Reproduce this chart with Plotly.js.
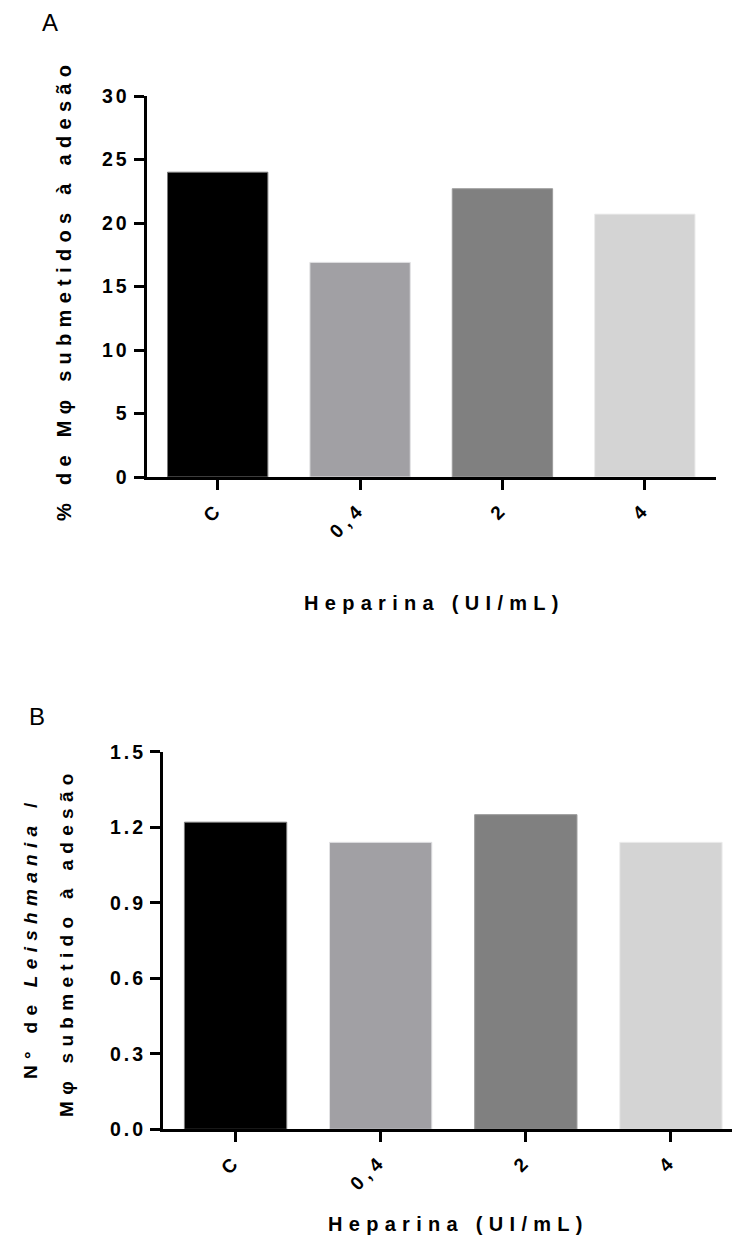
<!DOCTYPE html>
<html>
<head>
<meta charset="utf-8">
<script src="https://cdn.plot.ly/plotly-3.0.1.min.js"></script>
<style>
  html, body { margin: 0; padding: 0; background: #fff; overflow: hidden; }
  #chart { width: 760px; height: 1244px; }
  .ytick text, .y2tick text { letter-spacing: 3px; }
  .xtick text, .x2tick text { letter-spacing: 5px; }
  .annotation-text { letter-spacing: 6.3px; }
</style>
</head>
<body>
<div id="chart"></div>
<script>
// ---- data ----
const categories = ["C", "0,4", "2", "4"];
const valuesA = [24.0, 16.9, 22.7, 20.7];
const valuesB = [1.22, 1.14, 1.25, 1.14];
const barColors = ["#000000", "#a1a0a4", "#808080", "#d4d4d4"];
const barEdges = ["#7a7a7a", "#e2e2e4", "#9c9c9c", "#ececec"];
const yTicksA = [0, 5, 10, 15, 20, 25, 30];
const yTicksB = [0, 0.3, 0.6, 0.9, 1.2, 1.5];
const yTickTextB = ["0.0", "0.3", "0.6", "0.9", "1.2", "1.5"];
const xTitle = "Heparina (UI/mL)";
const yTitleA = "% de Mφ submetidos à adesão";
const yTitleB1 = "N° de <i>Leishmania</i> /";
const yTitleB2 = "Mφ submetido à adesão";

// ---- layout helpers (pixel -> paper) ----
const W = 760, H = 1244;
const px = x => x / W;
const py = y => 1 - y / H;

const FONT = "Arial, 'Liberation Sans', Helvetica, sans-serif";

const traces = [
  {
    type: "bar", x: categories, y: valuesA, xaxis: "x", yaxis: "y",
    marker: { color: barColors, line: { color: barEdges, width: 1 } },
    hoverinfo: "x+y", showlegend: false
  },
  {
    type: "bar", x: categories, y: valuesB, xaxis: "x2", yaxis: "y2",
    marker: { color: barColors, line: { color: barEdges, width: 1 } },
    hoverinfo: "x+y", showlegend: false
  }
];

const xCommon = {
  type: "category",
  range: [-0.5, 3.5],
  showgrid: false, zeroline: false,
  showline: true, linecolor: "#000", linewidth: 3,
  ticks: "outside", ticklen: 10, tickwidth: 3, tickcolor: "#000",
  tickangle: -45,
  tickfont: { family: FONT, size: 19, color: "#000", weight: "bold" },
  automargin: false, fixedrange: true
};
const yCommon = {
  showgrid: false, zeroline: false,
  showline: true, linecolor: "#000", linewidth: 3,
  ticks: "outside", ticklen: 10, tickwidth: 3, tickcolor: "#000",
  tickfont: { family: FONT, size: 19.5, color: "#000", weight: "bold" },
  automargin: false, fixedrange: true, ticklabelstandoff: 0
};

const titleFont = { family: FONT, size: 20, color: "#000", weight: "bold" };
const titleFontB = { family: FONT, size: 19, color: "#000", weight: "bold" };

const layout = {
  width: W, height: H,
  margin: { l: 0, r: 0, t: 0, b: 0, pad: 0 },
  paper_bgcolor: "#fff", plot_bgcolor: "#fff",
  bargap: 0.295,
  showlegend: false,
  xaxis: Object.assign({}, xCommon, { domain: [px(146.5), px(716)], anchor: "y" }),
  yaxis: Object.assign({}, yCommon, {
    domain: [py(477), py(96)], anchor: "x", range: [0, 30],
    tickmode: "array", tickvals: yTicksA
  }),
  xaxis2: Object.assign({}, xCommon, { domain: [px(163), px(743.5)], anchor: "y2" }),
  yaxis2: Object.assign({}, yCommon, {
    domain: [py(1129.3), py(751.7)], anchor: "x2", range: [0, 1.5],
    tickmode: "array", tickvals: yTicksB, ticktext: yTickTextB
  }),
  annotations: [
    { text: "A", xref: "paper", yref: "paper", x: px(53), y: py(22), showarrow: false,
      xanchor: "center", yanchor: "middle", font: { family: FONT, size: 24, color: "#000" } },
    { text: "B", xref: "paper", yref: "paper", x: px(40), y: py(716), showarrow: false,
      xanchor: "center", yanchor: "middle", font: { family: FONT, size: 24, color: "#000" } },
    { text: yTitleA, xref: "paper", yref: "paper", x: px(64), y: py(290), textangle: -90,
      showarrow: false, xanchor: "center", yanchor: "middle", font: titleFont },
    { text: xTitle, xref: "paper", yref: "paper", x: px(435), y: py(603), showarrow: false,
      xanchor: "center", yanchor: "middle", font: titleFont },
    { text: yTitleB1, xref: "paper", yref: "paper", x: px(30), y: py(938), textangle: -90,
      showarrow: false, xanchor: "center", yanchor: "middle", font: titleFontB },
    { text: yTitleB2, xref: "paper", yref: "paper", x: px(66), y: py(942), textangle: -90,
      showarrow: false, xanchor: "center", yanchor: "middle", font: titleFontB },
    { text: xTitle, xref: "paper", yref: "paper", x: px(458), y: py(1224), showarrow: false,
      xanchor: "center", yanchor: "middle", font: titleFont }
  ]
};

Plotly.newPlot("chart", traces, layout, { staticPlot: true, displayModeBar: false });
</script>
</body>
</html>
